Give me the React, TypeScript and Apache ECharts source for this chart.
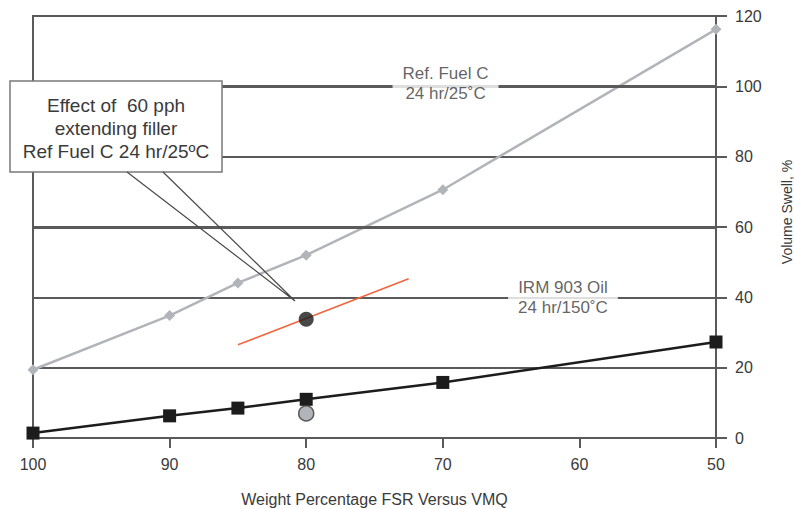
import React, { useEffect, useRef } from "react";
import * as echarts from "echarts";

// X: weight percentage FSR (axis runs 100 -> 50)
const xValues = [100, 90, 85, 80, 70, 50];
// Ref. Fuel C 24 hr/25°C volume swell, %
const refFuelC = [19.4, 34.8, 44.1, 52.0, 70.6, 116.2];
// IRM 903 Oil 24 hr/150°C volume swell, %
const irm903 = [1.4, 6.3, 8.5, 11.0, 15.8, 27.3];
// Effect of 60 pph extending filler (trend segment)
const fillerLineX = [85, 72.5];
const fillerLineY = [26.5, 45.3];
const filledFuelPoint = [80, 33.8];
const filledOilPoint = [80, 7.0];

const xMin = 50;
const xMax = 100;
const xInterval = 10;
const yMin = 0;
const yMax = 120;
const yInterval = 20;
// grid lines drawn heavier in the original
const heavyGridValues = [60, 100];

const xAxisName = "Weight Percentage FSR Versus VMQ";
const yAxisName = "Volume Swell, %";
const refLabel = { x: 69.8, y: 100.8, text: "Ref. Fuel C\n24 hr/25˚C" };
const irmLabel = { x: 61.2, y: 40, text: "IRM 903 Oil\n24 hr/150˚C" };
const calloutText = "Effect of  60 pph\nextending filler\nRef Fuel C 24 hr/25ºC";

const FONT = "'Liberation Sans', Arial, Helvetica, sans-serif";
const TEXT = "#3a3a3a";
const GRID = "#5a5a5a";

export default function App() {
  const ref = useRef<HTMLDivElement>(null);

  useEffect(() => {
    if (!ref.current) return;
    const chart = echarts.init(ref.current, undefined, { renderer: "svg" });

    const labelSeries = (lbl: { x: number; y: number; text: string }) => ({
      type: "scatter",
      symbolSize: 0,
      silent: true,
      z: 5,
      data: [[lbl.x, lbl.y]],
      label: {
        show: true,
        position: "inside",
        formatter: lbl.text,
        fontFamily: FONT,
        fontSize: 17,
        color: TEXT,
        lineHeight: 20,
        backgroundColor: "#ffffff",
        padding: [2, 10, 2, 10],
        align: "center",
        verticalAlign: "middle",
      },
    });

    chart.setOption({
      animation: false,
      textStyle: { fontFamily: FONT },
      grid: {
        left: 33,
        right: 78,
        top: 16,
        bottom: 71,
        outerBoundsMode: "none",
        containLabel: false,
        show: true,
        borderColor: GRID,
        borderWidth: 2,
        backgroundColor: "#ffffff",
      },
      xAxis: {
        type: "value",
        min: xMin,
        max: xMax,
        interval: xInterval,
        inverse: true,
        name: xAxisName,
        nameLocation: "middle",
        nameGap: 53,
        nameTextStyle: { fontFamily: FONT, fontSize: 16, color: TEXT },
        axisLine: { show: true, lineStyle: { color: GRID, width: 2 } },
        axisTick: { show: true, length: 10, lineStyle: { color: GRID, width: 2 } },
        axisLabel: { fontFamily: FONT, fontSize: 16, color: TEXT, margin: 18 },
        splitLine: { show: false },
      },
      yAxis: {
        type: "value",
        position: "right",
        min: yMin,
        max: yMax,
        interval: yInterval,
        axisLine: { show: true, onZero: false, lineStyle: { color: GRID, width: 2 } },
        axisTick: { show: true, length: 11, lineStyle: { color: GRID, width: 2 } },
        axisLabel: { fontFamily: FONT, fontSize: 16, color: TEXT, margin: 19 },
        splitLine: { show: true, lineStyle: { color: GRID, width: 2 } },
      },
      series: [
        {
          name: "heavy grid",
          type: "line",
          data: [],
          z: 1,
          silent: true,
          markLine: {
            silent: true,
            symbol: "none",
            label: { show: false },
            lineStyle: { color: GRID, width: 3, type: "solid" },
            data: heavyGridValues.map((v) => ({ yAxis: v })),
          },
        },
        {
          name: "Ref. Fuel C",
          type: "line",
          data: xValues.map((x, i) => [x, refFuelC[i]]),
          symbol: "diamond",
          symbolSize: 11,
          lineStyle: { color: "#b1b5b9", width: 2.5 },
          itemStyle: { color: "#b1b5b9" },
          z: 3,
        },
        {
          name: "Filler effect",
          type: "line",
          data: fillerLineX.map((x, i) => [x, fillerLineY[i]]),
          symbol: "none",
          lineStyle: { color: "#f2663f", width: 1.6 },
          z: 3,
        },
        {
          name: "IRM 903 Oil",
          type: "line",
          data: xValues.map((x, i) => [x, irm903[i]]),
          symbol: "rect",
          symbolSize: 13,
          lineStyle: { color: "#1c1c1c", width: 2.5 },
          itemStyle: { color: "#1c1c1c" },
          z: 3,
        },
        {
          name: "Filled fuel",
          type: "scatter",
          data: [filledFuelPoint],
          symbol: "circle",
          symbolSize: 15,
          itemStyle: { color: "#1a1a1a" },
          z: 4,
        },
        {
          name: "Filled oil",
          type: "scatter",
          data: [filledOilPoint],
          symbol: "circle",
          symbolSize: 15,
          itemStyle: { color: "#9ea3a7", borderColor: "#3a3a3a", borderWidth: 1.5 },
          z: 4,
        },
        labelSeries(refLabel),
        labelSeries(irmLabel),
      ],
      graphic: [
        {
          type: "text",
          z: 100,
          x: 787,
          y: 212,
          rotation: Math.PI / 2,
          style: {
            text: yAxisName,
            fontFamily: FONT,
            fontSize: 14,
            fill: TEXT,
            align: "center",
            verticalAlign: "middle",
          },
        },
        {
          type: "rect",
          z: 100,
          shape: { x: 10, y: 81, width: 212, height: 91 },
          style: { fill: "#ffffff", stroke: "#7a7a7a", lineWidth: 1.5 },
        },
        {
          type: "polyline",
          z: 101,
          shape: { points: [[127, 172], [295, 301], [163, 172]] },
          style: { fill: null, stroke: "#4a4a4a", lineWidth: 1.2 },
        },
        {
          type: "text",
          z: 102,
          x: 116,
          y: 128,
          style: {
            text: calloutText,
            fontFamily: FONT,
            fontSize: 19,
            lineHeight: 23,
            fill: TEXT,
            align: "center",
            verticalAlign: "middle",
          },
        },
      ],
    });

    return () => chart.dispose();
  }, []);

  return <div ref={ref} style={{ width: 794, height: 509, position: "absolute", left: 0, top: 0 }} />;
}
